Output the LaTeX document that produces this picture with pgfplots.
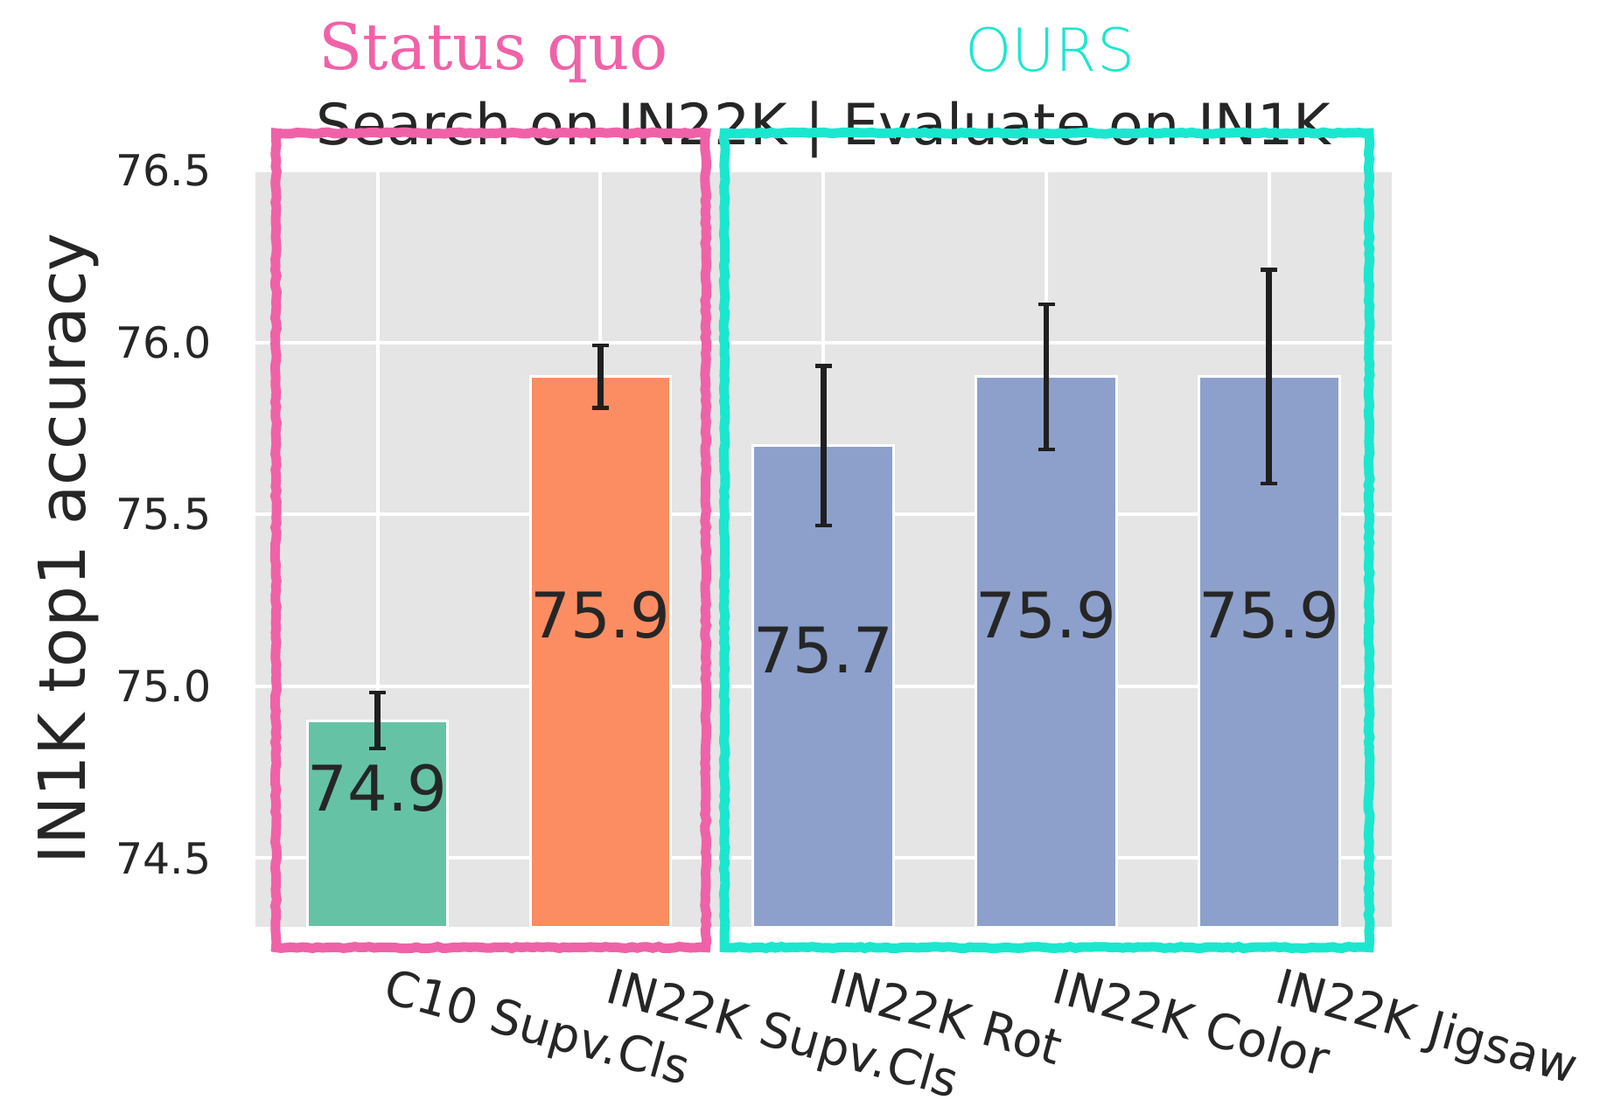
\documentclass[border=0pt]{standalone}
\usepackage{fontspec}
\setmainfont{DejaVu Sans}
\newfontfamily\serifq{DejaVu Serif}
\newfontfamily\oursfont{DejaVu Sans ExtraLight}
\usepackage{pgfplots}
\pgfplotsset{compat=1.18}
\usetikzlibrary{decorations.pathmorphing}
\definecolor{bggray}{HTML}{E5E5E5}
\definecolor{txt}{HTML}{262626}
\definecolor{errc}{HTML}{1F1F1F}
\definecolor{cA}{HTML}{66C2A5}
\definecolor{cB}{HTML}{FC8D62}
\definecolor{cC}{HTML}{8DA0CB}
\definecolor{pinkbox}{HTML}{F062A8}
\definecolor{tealbox}{HTML}{1BE7CF}
\begin{document}
\begin{tikzpicture}
\begin{axis}[
  scale only axis, width=649.5pt, height=432.5pt,
  xmin=-0.548, xmax=4.55, ymin=74.3, ymax=76.5,
  axis background/.style={fill=bggray},
  axis line style={draw=none},
  major tick length=0pt,
  grid=major, major grid style={white, line width=2pt},
  xtick={0,1,2,3,4},
  xticklabels={C10 Supv.Cls, IN22K Supv.Cls, IN22K Rot, IN22K Color, IN22K Jigsaw},
  ytick={74.5,75.0,75.5,76.0,76.5},
  /pgf/number format/assume math mode=true,
  yticklabel style={/pgf/number format/fixed, /pgf/number format/fixed zerofill, /pgf/number format/precision=1,
    font=\fontsize{24.5}{29}\selectfont, text=txt, anchor=base east, inner sep=0pt, xshift=-25pt, yshift=-8.9pt},
  xticklabel style={font=\fontsize{27.5}{33}\selectfont, text=txt, inner sep=0pt, xshift=2pt, yshift=-42.5pt, rotate=-15.5, anchor=base west},
  ylabel={IN1K top1 accuracy},
  ylabel style={font=\fontsize{37}{44}\selectfont, text=txt, at={(axis description cs:-0.150,0.5)}, anchor=base, inner sep=0pt},
]
\addplot[ybar, bar width=0.63, bar shift=0pt, fill=cA, draw=white, line width=1.5pt,
  error bars/.cd, y dir=both, y explicit,
  error bar style={line width=3.4pt, draw=errc},
  error mark options={rotate=90, mark size=4.75pt, line width=2.2pt, draw=errc}]
  coordinates {(0,74.90) +- (0,0.081)};
\addplot[ybar, bar width=0.63, bar shift=0pt, fill=cB, draw=white, line width=1.5pt,
  error bars/.cd, y dir=both, y explicit,
  error bar style={line width=3.4pt, draw=errc},
  error mark options={rotate=90, mark size=4.75pt, line width=2.2pt, draw=errc}]
  coordinates {(1,75.90) +- (0,0.091)};
\addplot[ybar, bar width=0.63, bar shift=0pt, fill=cC, draw=white, line width=1.5pt,
  error bars/.cd, y dir=both, y explicit,
  error bar style={line width=3.4pt, draw=errc},
  error mark options={rotate=90, mark size=4.75pt, line width=2.2pt, draw=errc}]
  coordinates {(2,75.70) +- (0,0.232) (3,75.90) +- (0,0.211) (4,75.90) +- (0,0.311)};
\addplot[draw=none, mark=none, nodes near coords, point meta=explicit symbolic,
  nodes near coords style={anchor=base, inner sep=0pt, text=txt, font=\fontsize{36}{43}\selectfont}]
  coordinates {(0,74.637) [74.9] (1,75.14) [75.9] (2,75.04) [75.7] (3,75.14) [75.9] (4,75.14) [75.9]};
\coordinate (pinkSW) at (axis cs:-0.456,74.240);
\coordinate (pinkNE) at (axis cs:1.472,76.609);
\coordinate (tealSW) at (axis cs:1.556,74.240);
\coordinate (tealNE) at (axis cs:4.448,76.609);
\coordinate (titlepos) at (axis cs:2,76.574);
\coordinate (statuspos) at (axis cs:-0.265,76.793);
\coordinate (ourspos) at (axis cs:2.635,76.788);
\coordinate (bbSW) at (axis cs:-1.694,73.798);
\coordinate (bbNE) at (axis cs:5.484,76.996);
\end{axis}
\node[anchor=base, inner sep=0pt, text=txt, font=\fontsize{32.5}{39}\selectfont] at (titlepos) {Search on IN22K | Evaluate on IN1K};
\node[anchor=base west, inner sep=0pt, text=pinkbox, font=\serifq\fontsize{36.7}{44}\selectfont] at (statuspos) {Status quo};
\node[anchor=base west, inner sep=0pt, text=tealbox, font=\oursfont\fontsize{34}{41}\selectfont] at (ourspos) {OURS};
\draw[pinkbox, line width=5.5pt, decorate, decoration={random steps, segment length=3pt, amplitude=0.5pt}] (pinkSW) rectangle (pinkNE);
\draw[tealbox, line width=5.5pt, decorate, decoration={random steps, segment length=3pt, amplitude=0.5pt}] (tealSW) rectangle (tealNE);
\pgfresetboundingbox
\path[use as bounding box] (bbSW) rectangle (bbNE);
\end{tikzpicture}
\end{document}
